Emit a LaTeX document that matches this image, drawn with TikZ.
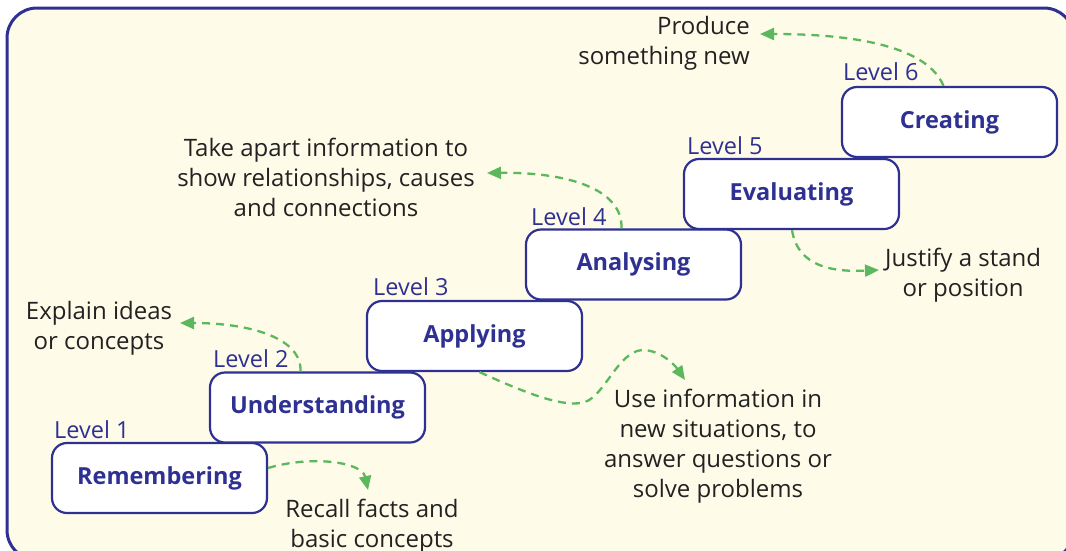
\documentclass[tikz,border=0pt]{standalone}
\usepackage{fontspec}
\setmainfont{Open Sans}
\usetikzlibrary{arrows.meta,calc}
\definecolor{navy}{HTML}{2E3192}
\definecolor{bgyellow}{HTML}{FFFBE9}
\definecolor{arrgreen}{HTML}{5CB85C}
\definecolor{txtgrey}{HTML}{222222}
\begin{document}
\begin{tikzpicture}[x=1pt,y=-1pt,
  levelbox/.style={draw=navy, line width=2.2pt, fill=white, rounded corners=15pt,
    minimum width=215pt, minimum height=70pt, inner sep=0pt,
    font=\fontsize{23.5}{27}\selectfont\bfseries, text=navy},
  lvl/.style={font=\fontsize{23.5}{27}\selectfont, text=navy, anchor=base west, inner sep=0pt},
  desc/.style={font=\fontsize{24}{30}\selectfont, text=txtgrey, align=center, inner sep=0pt},
  con/.style={draw=arrgreen, line width=2.3pt, dash pattern=on 8pt off 6pt,
    -{Triangle[length=14pt,width=12pt,fill=arrgreen]}}
]
\useasboundingbox (0,0) rectangle (1066,550);
\fill[white] (0,0) rectangle (1066,550);
\begin{scope}
  \clip (0,0) rectangle (1066,550);
  \draw[navy, line width=3pt, fill=bgyellow, rounded corners=30pt] (7,8) rectangle (1074,560);
\end{scope}

% boxes
\node[levelbox] (rem) at (159.5,478) {Remembering};
\node[levelbox] (und) at (317.5,407.5) {Understanding};
\node[levelbox] (app) at (474.5,336) {Applying};
\node[levelbox] (ana) at (633.5,264.5) {Analysing};
\node[levelbox] (eva) at (791.5,194) {Evaluating};
\node[levelbox] (cre) at (949.5,122) {Creating};

% level labels
\node[lvl] (l1) at (54,438) {Level 1};
\node[lvl] (l2) at (213,367) {Level 2};
\node[lvl] (l3) at (373,295) {Level 3};
\node[lvl] (l4) at (531,225) {Level 4};
\node[lvl] (l5) at (687,154) {Level 5};
\node[lvl] (l6) at (843,80) {Level 6};

% descriptions
\node[desc, anchor=north] (drem) at (372,499) {Recall facts and\\basic concepts};
\node[desc, anchor=north] (dund) at (99,301) {Explain ideas\\or concepts};
\node[desc, anchor=north] (dapp) at (718,389) {Use information in\\new situations, to\\answer questions or\\solve problems};
\node[desc, anchor=north] (dana) at (326,138) {Take apart information to\\show relationships, causes\\and connections};
\node[desc, anchor=north west] (deva) at (885,248) {Justify a stand\\or position};
\node[desc, anchor=north east, align=right] (dcre) at (750,16) {Produce\\something new};

% connectors
\draw[con] ([yshift=10pt]rem.east) .. controls (312,455) and (362,462) .. ([xshift=-4pt,yshift=9pt]drem.north);
\draw[con] ([xshift=-17pt]und.north) .. controls (302,338) and (250,323) .. ([xshift=81pt,yshift=-22pt]dund.north);
\draw[con] ([xshift=5pt]app.south) .. controls (530,395) and (565,408) .. (585,402)
  .. controls (605,395) and (618,352) .. (642,350)
  .. controls (660,350) and (674,364) .. ([xshift=-33pt,yshift=9pt]dapp.north);
\draw[con] ([xshift=-12pt]ana.north) .. controls (623,188) and (565,172) .. ([xshift=161pt,yshift=-35pt]dana.north);
\draw[con] ([xshift=0.5pt]eva.south) .. controls (798,268) and (835,272) .. ([xshift=-6pt,yshift=-22pt]deva.north west);
\draw[con] ([xshift=-6pt]cre.north) .. controls (928,48) and (860,34) .. ([xshift=10pt,yshift=-18pt]dcre.north east);
\end{tikzpicture}
\end{document}
